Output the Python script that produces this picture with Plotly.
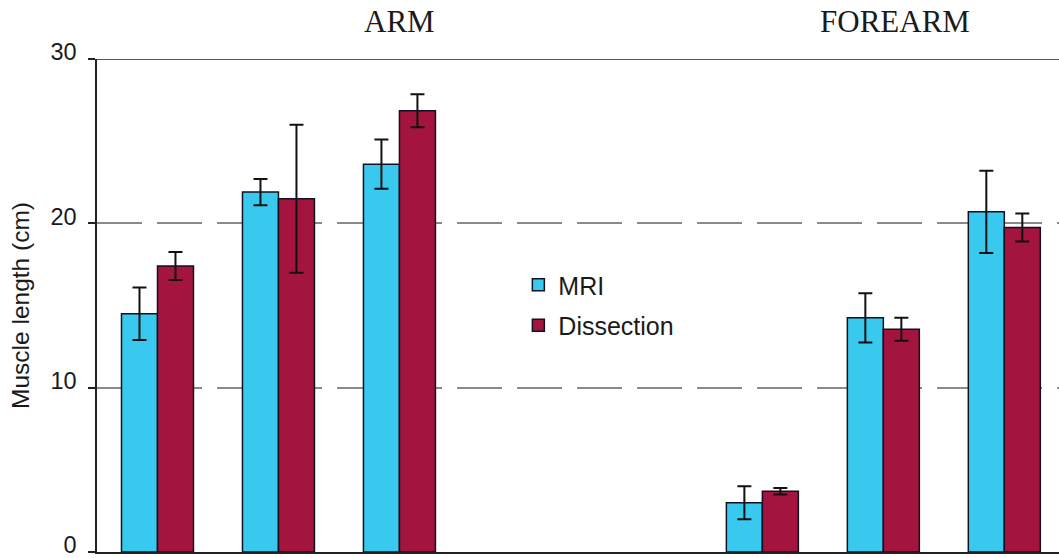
import plotly.graph_objects as go

# ---- data ----
categories = ["arm_1", "arm_2", "arm_3", "gap_1", "gap_2", "forearm_1", "forearm_2", "forearm_3"]
mri_mean = [14.5, 21.9, 23.6, None, None, 3.0, 14.25, 20.7]
mri_sd = [1.6, 0.8, 1.5, None, None, 1.0, 1.5, 2.5]
dis_mean = [17.4, 21.5, 26.85, None, None, 3.7, 13.55, 19.75]
dis_sd = [0.85, 4.5, 1.0, None, None, 0.2, 0.7, 0.85]
y_ticks = [0, 10, 20, 30]
region_labels = ["ARM", "FOREARM"]

MRI_COLOR = "#3AC9EE"
DIS_COLOR = "#A3143F"
SANS = "Arial, Liberation Sans, sans-serif"
SERIF = "Times New Roman, Liberation Serif, serif"

fig = go.Figure()
fig.add_trace(go.Bar(
    name="MRI", x=categories, y=mri_mean,
    marker=dict(color=MRI_COLOR, line=dict(color="#111122", width=1.5)),
    error_y=dict(type="data", array=mri_sd, visible=True, color="#111111",
                 thickness=2, width=7),
    legendgroup="a",
))
fig.add_trace(go.Bar(
    name="Dissection", x=categories, y=dis_mean,
    marker=dict(color=DIS_COLOR, line=dict(color="#111122", width=1.5)),
    error_y=dict(type="data", array=dis_sd, visible=True, color="#111111",
                 thickness=2, width=7),
    legendgroup="b",
))

fig.update_layout(
    width=1059, height=558,
    margin=dict(l=97, r=0, t=59, b=6, pad=0),
    paper_bgcolor="white", plot_bgcolor="white",
    barmode="group", bargap=0.405, bargroupgap=0,
    font=dict(family=SANS, color="#1a1a1a", size=24),
    showlegend=True,
    legend=dict(x=0.438, y=0.588, xanchor="left", yanchor="top",
                font=dict(family=SANS, size=25, color="#1a1a1a"),
                bgcolor="rgba(0,0,0,0)", tracegroupgap=5,
                traceorder="grouped"),
    xaxis=dict(
        type="category", categoryorder="array", categoryarray=categories,
        range=[-0.5, 7.452], showticklabels=False, ticks="",
        showline=True, linecolor="#222222", linewidth=1.5,
        showgrid=False, zeroline=False, fixedrange=True,
    ),
    yaxis=dict(
        range=[0, 30], tickvals=y_ticks, ticks="outside", ticklen=7,
        tickcolor="#222222", tickwidth=1.5,
        showline=True, linecolor="#222222", linewidth=1.5,
        showgrid=True, gridcolor="#8a8a8a", gridwidth=1.5, griddash="45px,15px",
        zeroline=False, automargin=False, ticklabelstandoff=7,
        ticklabeloverflow="allow", ticklabelshift=-7,
        tickfont=dict(size=23.5, family=SANS),
        title=dict(text="Muscle length (cm)", font=dict(size=24.5, family=SANS),
                   standoff=14),
    ),
    shapes=[dict(type="line", xref="paper", yref="y", x0=0, x1=1, y0=30, y1=30,
                 line=dict(color="#555555", width=2))],
    annotations=[
        dict(text=region_labels[0], x=2, xref="x", y=1.076, yref="paper",
             showarrow=False, xanchor="center", yanchor="middle",
             font=dict(family=SERIF, size=31, color="#1a1a1a")),
        dict(text=region_labels[1], x=6.1, xref="x", y=1.076, yref="paper",
             showarrow=False, xanchor="center", yanchor="middle",
             font=dict(family=SERIF, size=31, color="#1a1a1a")),
    ],
)

fig.write_html("out.html")
